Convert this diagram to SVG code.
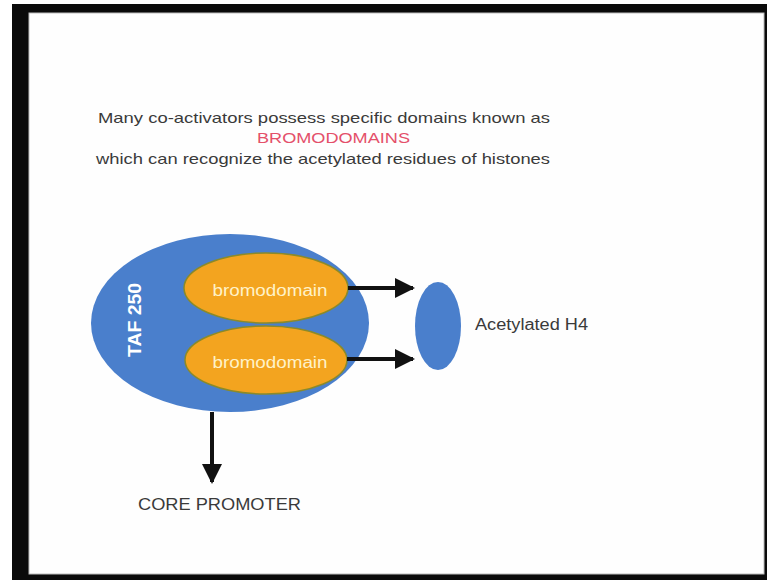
<svg xmlns="http://www.w3.org/2000/svg" width="767" height="580" viewBox="0 0 767 580">
<style>
.t{font-family:"Liberation Sans",Arial,sans-serif;fill:#3a3a3a}
.bd{fill:#f3a41f;stroke:#8a8a2a;stroke-width:1.5}
.bdt{font-family:"Liberation Sans",Arial,sans-serif;font-size:16px;fill:#fff2c8;text-anchor:middle}
.ln{stroke:#111;stroke-width:4;fill:none}
</style>
<defs>
<marker id="ah" viewBox="0 0 10 10" refX="9" refY="5" markerWidth="5" markerHeight="5" orient="auto" markerUnits="strokeWidth">
<path d="M0,0 L10,5 L0,10 Z" fill="#111"/>
</marker>
</defs>
<rect x="0" y="0" width="767" height="580" fill="#fff"/>
<rect x="12" y="4" width="755" height="576" fill="#0a0a0a"/>
<rect x="29" y="13" width="735" height="561" fill="#fefefe" stroke="#bdbdbd" stroke-width="1"/>
<g id="title">
<text class="t" x="98" y="123" font-size="15" textLength="452" lengthAdjust="spacingAndGlyphs">Many co-activators possess specific domains known as</text>
<text x="257" y="143" font-size="15" font-family="Liberation Sans,Arial,sans-serif" fill="#e4506a" textLength="153" lengthAdjust="spacingAndGlyphs">BROMODOMAINS</text>
<text class="t" x="96" y="164" font-size="15" textLength="454" lengthAdjust="spacingAndGlyphs">which can recognize the acetylated residues of histones</text>
</g>
<g id="taf250">
<ellipse cx="230" cy="323" rx="139" ry="89" fill="#4a7fcc"/>
<text x="141" y="320" transform="rotate(-90 141 320)" font-family="Liberation Sans,Arial,sans-serif" font-weight="bold" font-size="18" fill="#fff" text-anchor="middle" textLength="74" lengthAdjust="spacingAndGlyphs">TAF 250</text>
</g>
<g id="bromo1">
<ellipse class="bd" cx="266" cy="288" rx="82" ry="35"/>
<text class="bdt" x="270" y="296" textLength="115" lengthAdjust="spacingAndGlyphs">bromodomain</text>
</g>
<g id="bromo2">
<ellipse class="bd" cx="266" cy="360" rx="81" ry="34"/>
<text class="bdt" x="270" y="368" textLength="115" lengthAdjust="spacingAndGlyphs">bromodomain</text>
</g>
<g id="h4">
<ellipse cx="438" cy="326" rx="23" ry="44" fill="#4a7fcc"/>
<text class="t" x="475" y="330" font-size="16" textLength="113" lengthAdjust="spacingAndGlyphs">Acetylated H4</text>
</g>
<g id="core">
<text class="t" x="138" y="510" font-size="16" textLength="163" lengthAdjust="spacingAndGlyphs">CORE PROMOTER</text>
</g>
<g id="connectors">
<line class="ln" x1="348" y1="288" x2="413" y2="288" marker-end="url(#ah)"/>
<line class="ln" x1="347" y1="359" x2="413" y2="359" marker-end="url(#ah)"/>
<line class="ln" x1="212" y1="412" x2="212" y2="482" marker-end="url(#ah)"/>
</g>
</svg>
